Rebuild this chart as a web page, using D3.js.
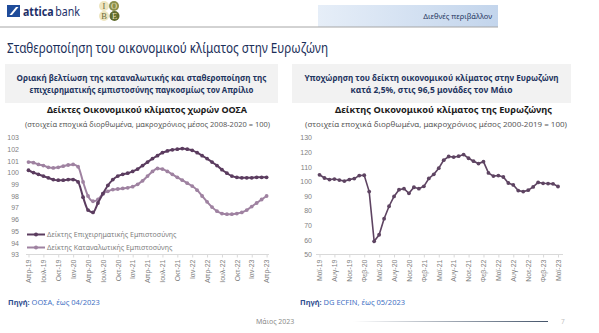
<!DOCTYPE html>
<html><head><meta charset="utf-8">
<script src="https://cdn.jsdelivr.net/npm/d3@7"></script>
<style>
html,body{margin:0;padding:0;background:#fff;}
svg{display:block;font-family:"Noto Sans","Open Sans","DejaVu Sans",sans-serif;}
</style></head><body>
<svg id="c" width="599" height="333"></svg>
<script>
// ---------- DATA ----------
const grMonths = ["Ιαν","Φεβ","Μαρ","Απρ","Μαϊ","Ιουν","Ιουλ","Αυγ","Σεπ","Οκτ","Νοε","Δεκ"];
function monthSeq(startMonth, startYear, n){
  const out=[]; for(let i=0;i<n;i++){const m=(startMonth+i)%12, y=startYear+Math.floor((startMonth+i)/12); out.push(grMonths[m]+"-"+String(y).slice(2));} return out;
}
// OECD chart: Apr-2019 .. Apr-2023
const oecdCategories = monthSeq(3, 2019, 49);
const oecdTickLabels = ["Απρ-19","Ιουλ-19","Οκτ-19","Ιαν-20","Απρ-20","Ιουλ-20","Οκτ-20","Ιαν-21","Απρ-21","Ιουλ-21","Οκτ-21","Ιαν-22","Απρ-22","Ιουλ-22","Οκτ-22","Ιαν-23","Απρ-23"];
const oecdYTicks = [93,94,95,96,97,98,99,100,101,102,103];
const businessConfidence = [100.2,100.0,99.85,99.7,99.55,99.4,99.35,99.35,99.4,99.4,99.2,97.9,96.8,96.6,97.4,98.2,98.9,99.4,99.7,99.85,99.95,100.1,100.3,100.6,100.9,101.2,101.45,101.7,101.85,101.95,102.0,102.05,102.0,101.9,101.7,101.45,101.2,100.9,100.6,100.25,99.95,99.7,99.6,99.55,99.55,99.55,99.6,99.6,99.6];
const consumerConfidence = [100.9,100.85,100.7,100.6,100.45,100.4,100.45,100.55,100.65,100.7,100.5,99.2,98.0,97.55,97.7,98.2,98.4,98.55,98.6,98.65,98.7,98.8,99.0,99.3,99.7,100.1,100.35,100.3,100.1,99.85,99.6,99.35,99.1,98.85,98.5,98.0,97.5,97.05,96.7,96.5,96.45,96.45,96.5,96.6,96.8,97.1,97.4,97.7,98.0];
const oecdSeriesNames = ["Δείκτης Επιχειρηματικής Εμπιστοσύνης","Δείκτης Καταναλωτικής Εμπιστοσύνης"];

// Euro area ESI: May-2019 .. May-2023
const esiCategories = monthSeq(4, 2019, 49);
const esiTickLabels = ["Μαϊ-19","Αυγ-19","Νοε-19","Φεβ-20","Μαϊ-20","Αυγ-20","Νοε-20","Φεβ-21","Μαϊ-21","Αυγ-21","Νοε-21","Φεβ-22","Μαϊ-22","Αυγ-22","Νοε-22","Φεβ-23","Μαϊ-23"];
const esiYTicks = [50,60,70,80,90,100,110,120,130];
const esiValues = [104.5,102.3,101.2,101.6,100.9,100.2,101.2,101.9,104.0,104.2,93.0,59.0,63.5,74.5,83.0,89.7,94.3,95.0,91.8,96.0,95.0,96.6,102.0,104.8,109.0,114.5,117.0,116.6,117.2,118.3,115.8,113.8,112.2,113.5,105.8,103.6,104.0,103.0,98.9,97.6,93.7,93.0,94.0,96.2,99.3,98.7,98.5,98.3,96.5];

// ---------- DRAW ----------
const svg = d3.select("#c");
const navy = "#1f3560";
const axisGray = "#7f7f7f";
const darkPurple = "#5b3c5f", lightPurple = "#9f82a1";

// header
const defs = svg.append("defs");
const g1 = defs.append("linearGradient").attr("id","hdr").attr("x1","0").attr("x2","1").attr("y1","0").attr("y2","0");
g1.append("stop").attr("offset","0").attr("stop-color","#e6eef8");
g1.append("stop").attr("offset","1").attr("stop-color","#c3d5ec");
const g2 = defs.append("linearGradient").attr("id","ftr").attr("x1","0").attr("x2","1");
g2.append("stop").attr("offset","0").attr("stop-color","#ffffff");
g2.append("stop").attr("offset","1").attr("stop-color","#44546a");

svg.append("rect").attr("x",7).attr("y",5).attr("width",13).attr("height",12).attr("fill","#1f4c9a");
svg.append("polygon").attr("points","9.5,15 12,15 18.5,7 16,7").attr("fill","#fff");
svg.append("text").attr("x",23).attr("y",16).attr("font-size",12).attr("fill","#1d2f68")
  .attr("textLength",57).attr("lengthAdjust","spacingAndGlyphs")
  .call(t=>{t.append("tspan").attr("font-weight","bold").text("attica");t.append("tspan").attr("dx",2).text("bank");});
const iobe = [["I",104,6,"#eee5bf","#6b6b3a"],["O",114,6,"#8c8f4c","#eee5bf"],["B",104,16,"#eee5bf","#6b6b3a"],["E",114.5,16,"#5f6b2c","#eee5bf"]];
iobe.forEach(d=>{
  svg.append("circle").attr("cx",d[1]).attr("cy",d[2]).attr("r",5).attr("fill",d[3]);
  svg.append("text").attr("x",d[1]).attr("y",d[2]+3).attr("text-anchor","middle").attr("font-size",8.5)
    .attr("font-family","Liberation Serif, serif").attr("fill",d[4]).text(d[0]);
});
svg.append("rect").attr("x",318).attr("y",5).attr("width",180).attr("height",22).attr("fill","url(#hdr)");
svg.append("text").attr("x",492).attr("y",19).attr("text-anchor","end").attr("font-size",7.5).attr("fill",navy).text("Διεθνές περιβάλλον");
svg.append("line").attr("x1",0).attr("x2",498).attr("y1",27).attr("y2",27).attr("stroke","#a6a6a6").attr("stroke-width",1);

svg.append("text").attr("x",7).attr("y",52.5).attr("font-size",14.5).attr("fill","#1b2f5a")
  .attr("textLength",321).attr("lengthAdjust","spacingAndGlyphs").text("Σταθεροποίηση του οικονομικού κλίματος στην Ευρωζώνη");

// grey headline boxes
const boxes = [
  {x:5,w:273,l1:"Οριακή βελτίωση της καταναλωτικής και σταθεροποίηση της",l2:"επιχειρηματικής εμπιστοσύνης παγκοσμίως τον Απρίλιο",w1:250,w2:224},
  {x:292,w:279,l1:"Υποχώρηση του δείκτη οικονομικού κλίματος στην Ευρωζώνη",l2:"κατά 2,5%, στις 96,5 μονάδες τον Μάιο",w1:254,w2:162}
];
boxes.forEach(b=>{
  svg.append("rect").attr("x",b.x).attr("y",64).attr("width",b.w).attr("height",39).attr("fill","#f2f2f2");
  const cx=b.x+b.w/2;
  svg.append("text").attr("x",cx).attr("y",81).attr("text-anchor","middle").attr("font-size",9).attr("font-weight","bold")
    .attr("fill",navy).attr("textLength",b.w1).attr("lengthAdjust","spacingAndGlyphs").text(b.l1);
  svg.append("text").attr("x",cx).attr("y",93).attr("text-anchor","middle").attr("font-size",9).attr("font-weight","bold")
    .attr("fill",navy).attr("textLength",b.w2).attr("lengthAdjust","spacingAndGlyphs").text(b.l2);
});

// chart titles
function chartTitle(cx, t1, w1, cx2, t2, w2){
  svg.append("text").attr("x",cx).attr("y",113).attr("text-anchor","middle").attr("font-size",9).attr("font-weight","bold")
    .attr("fill","#1a1a1a").attr("textLength",w1).attr("lengthAdjust","spacingAndGlyphs").text(t1);
  svg.append("text").attr("x",cx2).attr("y",126.5).attr("text-anchor","middle").attr("font-size",7).
    attr("fill","#595959").attr("textLength",w2).attr("lengthAdjust","spacingAndGlyphs").text(t2);
}
chartTitle(147,"Δείκτες Οικονομικού κλίματος χωρών ΟΟΣΑ",200,147.5,"(στοιχεία εποχικά διορθωμένα, μακροχρόνιος μέσος 2008-2020 = 100)",245);
chartTitle(443.5,"Δείκτης Οικονομικού κλίματος της Ευρωζώνης",217,436,"(στοιχεία εποχικά διορθωμένα, μακροχρόνιος μέσος 2000-2019 = 100)",262);

// generic chart
function drawChart(o){
  const x = d3.scalePoint().domain(o.categories).range(o.xRange);
  const y = d3.scaleLinear().domain(o.yDomain).range([254.5,137.5]);
  const g = svg.append("g");
  const ya = g.append("g").attr("transform",`translate(${o.yLabelX+3},0)`)
    .call(d3.axisLeft(y).tickValues(o.yTicks).tickSize(0).tickPadding(3).tickFormat(d3.format("d")));
  ya.select(".domain").remove();
  ya.selectAll("text").attr("font-size",7).attr("fill",axisGray).attr("font-family",null);
  g.append("line").attr("x1",o.axisX[0]).attr("x2",o.axisX[1]).attr("y1",254.5).attr("y2",254.5).attr("stroke","#d9d9d9").attr("stroke-width",1);
  const xa = g.append("g").attr("transform","translate(0,254.5)")
    .call(d3.axisBottom(x).tickValues(o.tickLabels).tickSize(3).tickPadding(0));
  xa.select(".domain").remove();
  xa.selectAll("line").attr("stroke","#d9d9d9");
  xa.selectAll("text").attr("font-size",7).attr("fill",axisGray).attr("font-family",null)
    .attr("transform","rotate(-90)").attr("text-anchor","end").attr("x",-5).attr("y",0).attr("dy","0.32em");
  o.series.forEach(s=>{
    const pts = s.values.map((v,i)=>[x(o.categories[i]),y(v)]);
    g.append("path").attr("d",d3.line().curve(o.curve)(pts)).attr("fill","none").attr("stroke",s.color).attr("stroke-width",o.lw);
    g.selectAll(null).data(pts).join("circle").attr("cx",d=>d[0]).attr("cy",d=>d[1]).attr("r",o.r).attr("fill",s.color);
  });
  return {x,y,g};
}
const left = drawChart({categories:oecdCategories,tickLabels:oecdTickLabels,yDomain:[93,103],yTicks:oecdYTicks,
  xRange:[28.5,266.6],axisX:[26,269],yLabelX:19,curve:d3.curveMonotoneX,lw:2,r:1.9,
  series:[{values:consumerConfidence,color:lightPurple},{values:businessConfidence,color:darkPurple}]});
// legend
[[darkPurple,oecdSeriesNames[0],234.5],[lightPurple,oecdSeriesNames[1],247.5]].forEach(d=>{
  svg.append("line").attr("x1",27).attr("x2",45).attr("y1",d[2]).attr("y2",d[2]).attr("stroke",d[0]).attr("stroke-width",2);
  svg.append("circle").attr("cx",36).attr("cy",d[2]).attr("r",2).attr("fill",d[0]);
  svg.append("text").attr("x",47).attr("y",d[2]+2.5).attr("font-size",7).attr("fill",axisGray).text(d[1]);
});
const right = drawChart({categories:esiCategories,tickLabels:esiTickLabels,yDomain:[50,130],yTicks:esiYTicks,
  xRange:[319.5,558],axisX:[316,563],yLabelX:312,curve:d3.curveLinear,lw:1.6,r:1.9,
  series:[{values:esiValues,color:"#5e4462"}]});

// sources
function source(x, rest){
  const t = svg.append("text").attr("x",x).attr("y",305).attr("font-size",7.5);
  t.append("tspan").attr("font-weight","bold").attr("fill","#2f4f8f").text("Πηγή:");
  t.append("tspan").attr("fill","#4472c4").text(" "+rest);
}
source(8,"ΟΟΣΑ, έως 04/2023");
source(300,"DG ECFIN, έως 05/2023");

// footer
svg.append("text").attr("x",256).attr("y",324).attr("font-size",7).attr("fill","#8c8c8c").text("Μάιος 2023");
svg.append("rect").attr("x",353).attr("y",321).attr("width",195).attr("height",1).attr("fill","url(#ftr)");
svg.append("text").attr("x",561).attr("y",324).attr("font-size",6.5).attr("fill","#bfbfbf").text("7");
</script>
</body></html>
